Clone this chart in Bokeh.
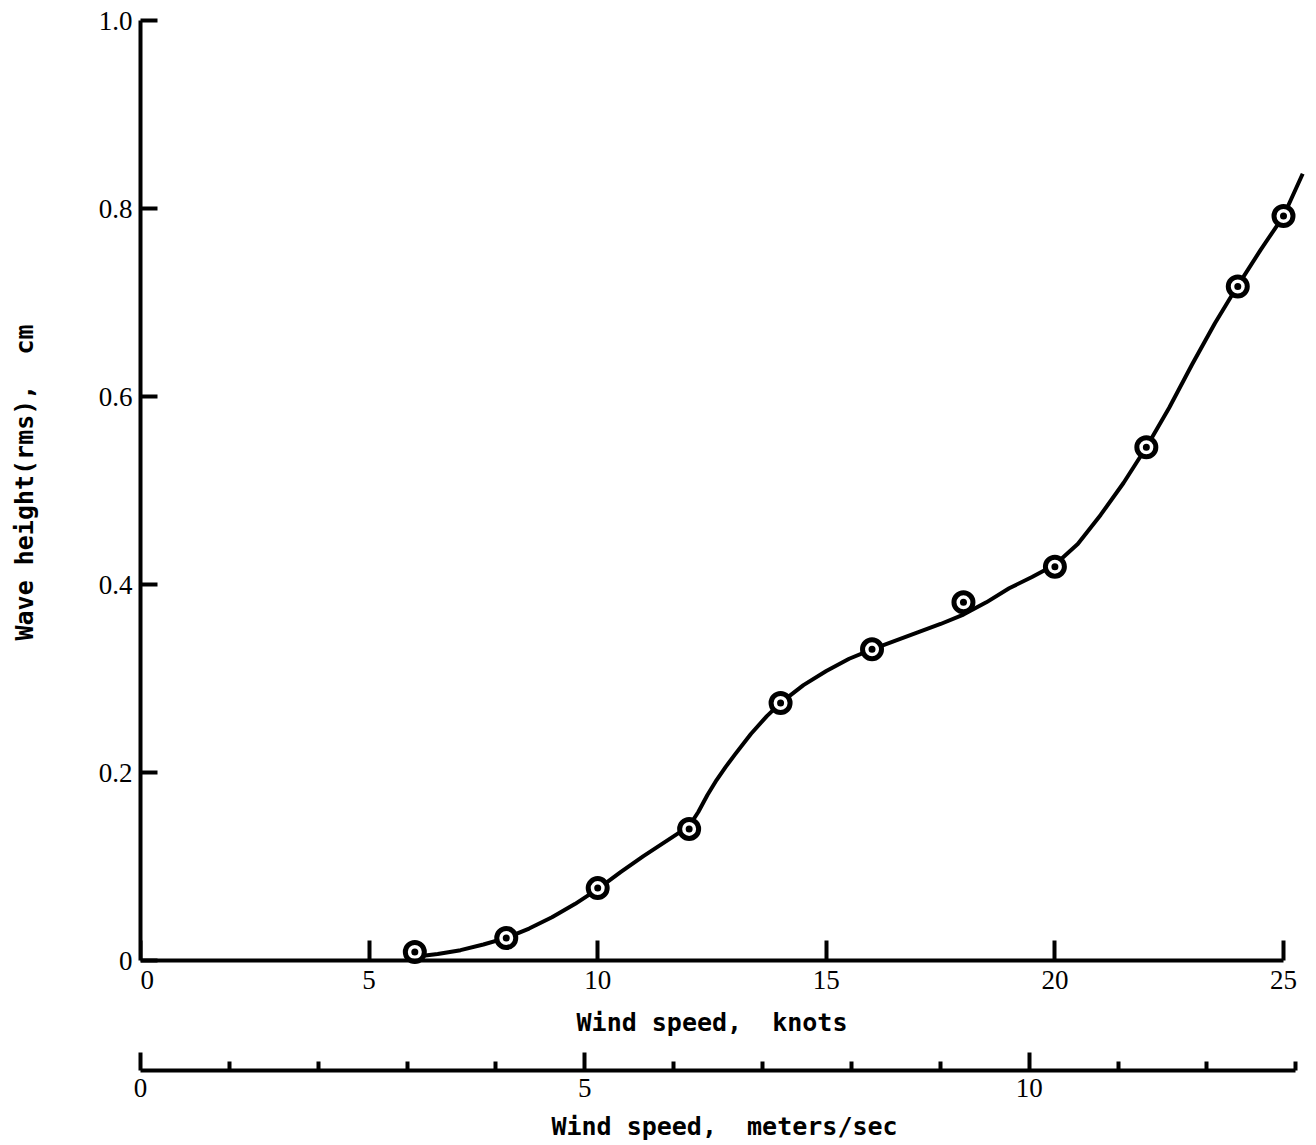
from bokeh.plotting import figure
from bokeh.models import Range1d, LinearAxis, FixedTicker, Title
from bokeh.embed import file_html
from bokeh.resources import INLINE

# ---- data ----
point_knots = [6, 8, 10, 12, 14, 16, 18, 20, 22, 24, 25]
point_height = [0.009, 0.024, 0.077, 0.140, 0.274, 0.331, 0.381, 0.419, 0.546, 0.717, 0.792]

curve_knots = [5.85, 6.0, 6.5, 7.0, 7.5, 8.0, 8.5, 9.0, 9.5, 10.0, 10.5, 11.0, 11.5, 12.0,
               12.2, 12.4, 12.6, 12.8, 13.0, 13.35, 13.7, 14.0, 14.5, 15.0, 15.5, 16.0, 16.5,
               17.0, 17.5, 18.0, 18.5, 19.0, 19.5, 20.0, 20.5, 21.0, 21.5, 22.0, 22.5,
               23.0, 23.5, 24.0, 24.5, 25.0, 25.42]
curve_height = [0.002, 0.004, 0.007, 0.011, 0.017, 0.024, 0.034, 0.046, 0.060, 0.076, 0.094,
                0.111, 0.127, 0.143, 0.158, 0.176, 0.192, 0.206, 0.219, 0.241, 0.260, 0.274,
                0.293, 0.308, 0.321, 0.331, 0.340, 0.349, 0.358, 0.368, 0.381, 0.396, 0.408,
                0.421, 0.443, 0.474, 0.508, 0.546, 0.588, 0.634, 0.678, 0.718, 0.756, 0.792,
                0.837]

y_ticks = [0, 0.2, 0.4, 0.6, 0.8, 1.0]
y_tick_labels = ["0", "0.2", "0.4", "0.6", "0.8", "1.0"]
knot_ticks = [0, 5, 10, 15, 20, 25]
knot_tick_labels = ["0", "5", "10", "15", "20", "25"]
ms_major_ticks = [0, 5, 10]
ms_minor_ticks = [1, 2, 3, 4, 6, 7, 8, 9, 11, 12, 13]
KNOTS_PER_MS = 1.94384
NB = "\u00a0"
y_title = "Wave height(rms)," + NB + " cm"
knots_title = "Wind speed," + NB + " knots"
ms_title = "Wind speed," + NB + " meters/sec"

# ---- layout ----
W, H = 1308, 1145
LEFT, TOP = 140, 12
PX_PER_KNOT = 45.72
PX_PER_UNIT_Y = 940.0
FRAME_BOTTOM = 1070
BOTTOM = H - FRAME_BOTTOM
x_end = (W - LEFT) / PX_PER_KNOT
y_end = 1 + (20 - TOP) / PX_PER_UNIT_Y
y_start = -(FRAME_BOTTOM - 960) / PX_PER_UNIT_Y

p = figure(width=W, height=H, output_backend="svg", toolbar_location=None,
           x_range=Range1d(0, x_end), y_range=Range1d(y_start, y_end),
           x_axis_type=None, y_axis_type=None,
           min_border_left=LEFT, min_border_right=0, min_border_top=TOP, min_border_bottom=BOTTOM)
p.outline_line_color = None
p.background_fill_color = "white"
p.border_fill_color = "white"
p.extra_x_ranges = {"ms": Range1d(0, x_end / KNOTS_PER_MS)}

TICK_FONT = "Liberation Serif"
LABEL_FONT = "DejaVu Sans Mono"

def style(ax):
    ax.axis_line_width = 4
    ax.axis_line_color = "black"
    ax.major_tick_line_width = 4
    ax.major_tick_line_color = "black"
    ax.major_tick_out = 0
    ax.major_label_text_font = TICK_FONT
    ax.major_label_text_font_size = "27px"
    ax.major_label_text_color = "black"
    ax.axis_label_text_font = LABEL_FONT
    ax.axis_label_text_font_size = "25px"
    ax.axis_label_text_font_style = "bold"
    ax.axis_label_text_color = "black"

# y axis: a blank (non-breaking space) axis label reserves room so the title sits far left
yax = LinearAxis(ticker=FixedTicker(ticks=y_ticks, minor_ticks=[]), bounds=(0, 1),
                 axis_label=NB,
                 major_label_overrides={t: l for t, l in zip(y_ticks, y_tick_labels)})
style(yax)
yax.major_tick_in = 17
yax.minor_tick_line_color = None
yax.major_label_standoff = 8
yax.axis_label_standoff = 25
p.add_layout(yax, "left")

p.add_layout(Title(text=y_title, align="left", offset=430, standoff=0,
                   vertical_align="bottom",
                   text_font=LABEL_FONT, text_font_size="25px", text_font_style="bold",
                   text_color="black"), "left")

# the knots axis sits inside the frame at y=0; pad the "0" so the frame edge does not clip it
knot_overrides = {t: l for t, l in zip(knot_ticks, knot_tick_labels)}
knot_overrides[0] = NB + NB + knot_tick_labels[0]
kax = LinearAxis(ticker=FixedTicker(ticks=knot_ticks, minor_ticks=[]), bounds=(0, 25),
                 fixed_location=0, axis_label=knots_title,
                 major_label_overrides=knot_overrides)
style(kax)
kax.major_tick_in = 20
kax.minor_tick_line_color = None
kax.major_label_standoff = 4
kax.axis_label_standoff = 10
p.add_layout(kax, "below")

ms_ax = LinearAxis(x_range_name="ms",
                   ticker=FixedTicker(ticks=ms_major_ticks, minor_ticks=ms_minor_ticks),
                   bounds=(0, 13), axis_label=ms_title)
style(ms_ax)
ms_ax.major_tick_in = 18
ms_ax.minor_tick_in = 9
ms_ax.minor_tick_out = 0
ms_ax.minor_tick_line_width = 4
ms_ax.minor_tick_line_color = "black"
ms_ax.major_label_standoff = 8
ms_ax.axis_label_standoff = 12
p.add_layout(ms_ax, "below")

p.line(curve_knots, curve_height, line_width=4, line_color="black", line_join="round")
p.scatter(point_knots, point_height, size=19, fill_color="white", line_color="black", line_width=5)
p.scatter(point_knots, point_height, size=7, fill_color="black", line_color=None)

open("out.html", "w").write(file_html(p, INLINE))
